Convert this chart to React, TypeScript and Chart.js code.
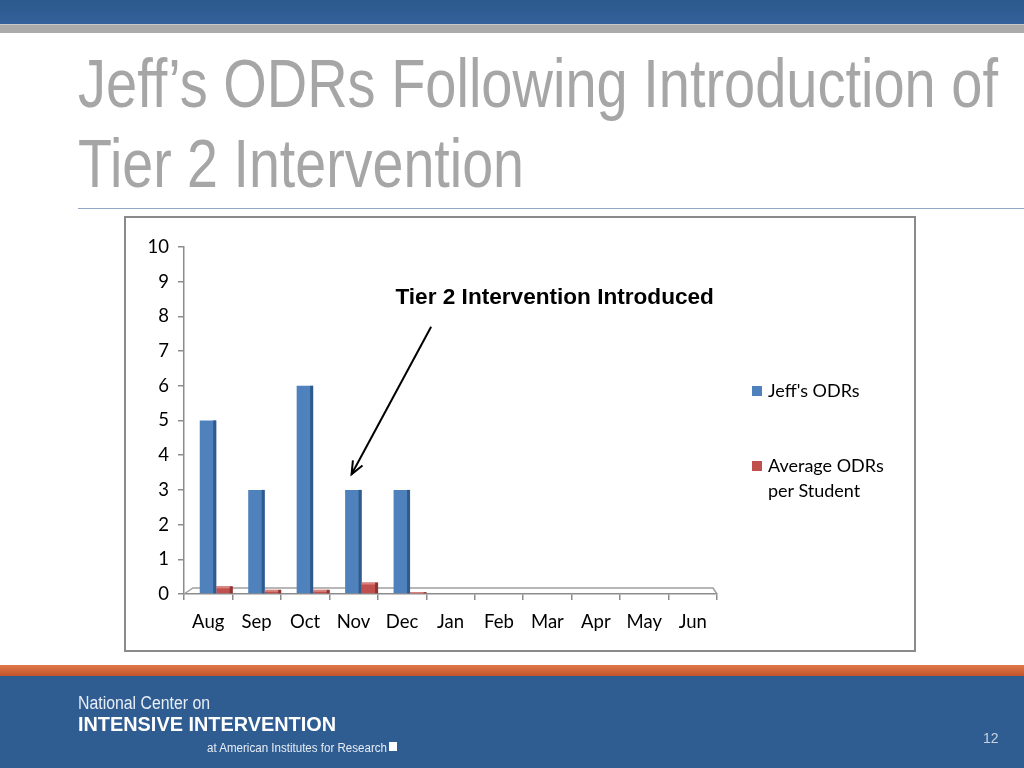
import React, { useEffect, useRef } from "react";
import { Chart, registerables } from "chart.js";

Chart.register(...registerables);

const months = ["Aug", "Sep", "Oct", "Nov", "Dec", "Jan", "Feb", "Mar", "Apr", "May", "Jun"];
const jeffODRs = [5, 3, 6, 3, 3, null, null, null, null, null, null];
const avgODRs = [0.22, 0.12, 0.12, 0.33, 0.05, null, null, null, null, null, null];
const yTicks = [0, 1, 2, 3, 4, 5, 6, 7, 8, 9, 10];
const seriesNames = ["Jeff's ODRs", "Average ODRs per Student"];
const annotationText = "Tier 2 Intervention Introduced";

const BLUE = "#4f81bd";
const BLUE_DARK = "#2f5a8c";
const RED = "#c0504d";
const RED_DARK = "#8e3431";
const RED_LIGHT = "#d9837f";
const AXIS = "#8c8c8c";
const FONT = "Lato, 'Open Sans', sans-serif";
const DEPTH_SHIFT = 8;

const deco = {
  id: "deco",
  beforeDatasetsDraw(chart: any) {
    const { ctx, chartArea } = chart;
    const { left, right, bottom } = chartArea;
    ctx.save();
    ctx.strokeStyle = "#a0a0a0";
    ctx.lineWidth = 1.5;
    ctx.beginPath();
    ctx.moveTo(left, bottom);
    ctx.lineTo(left + 9, bottom - 6);
    ctx.lineTo(right - 4, bottom - 6);
    ctx.lineTo(right, bottom);
    ctx.stroke();
    ctx.restore();
    ctx.save();
    ctx.translate(DEPTH_SHIFT, 0);
  },
  afterDatasetsDraw(chart: any) {
    const { ctx } = chart;
    chart.data.datasets.forEach((ds: any, i: number) => {
      const meta = chart.getDatasetMeta(i);
      meta.data.forEach((bar: any, j: number) => {
        if (ds.data[j] == null) return;
        const w = bar.width;
        const l = bar.x - w / 2;
        const r = bar.x + w / 2;
        const top = bar.y;
        const base = bar.base;
        if (i === 0) {
          ctx.fillStyle = BLUE_DARK;
          ctx.fillRect(r - 3, top, 3, base - top);
        } else {
          ctx.fillStyle = RED_DARK;
          ctx.fillRect(r - 3, top, 3, base - top);
          ctx.fillStyle = RED_LIGHT;
          ctx.fillRect(l, top, w - 3, Math.min(2, base - top));
        }
      });
    });
    ctx.restore();
  },
  afterDraw(chart: any) {
    const { ctx, scales } = chart;
    const x = scales.x;
    const y = scales.y;
    ctx.save();
    ctx.fillStyle = "#000";
    ctx.font = "bold 22.6px 'Liberation Sans', Arial, sans-serif";
    ctx.textAlign = "center";
    ctx.textBaseline = "middle";
    ctx.fillText(annotationText, x.getPixelForValue(7.15), y.getPixelForValue(8.55));
    const x1 = x.getPixelForValue(4.6);
    const y1 = y.getPixelForValue(7.7);
    const x2 = x.getPixelForValue(3) - 2;
    const y2 = y.getPixelForValue(3.45);
    ctx.strokeStyle = "#000";
    ctx.lineWidth = 2;
    ctx.beginPath();
    ctx.moveTo(x1, y1);
    ctx.lineTo(x2, y2);
    ctx.stroke();
    const ang = Math.atan2(y2 - y1, x2 - x1);
    const hl = 14;
    ctx.beginPath();
    ctx.moveTo(x2 - hl * Math.cos(ang - 0.4), y2 - hl * Math.sin(ang - 0.4));
    ctx.lineTo(x2, y2);
    ctx.lineTo(x2 - hl * Math.cos(ang + 0.4), y2 - hl * Math.sin(ang + 0.4));
    ctx.stroke();
    ctx.restore();
  },
};

function ChartBox() {
  const ref = useRef<HTMLCanvasElement | null>(null);
  useEffect(() => {
    if (!ref.current) return;
    const chart = new Chart(ref.current, {
      type: "bar",
      data: {
        labels: months,
        datasets: [
          { label: seriesNames[0], data: jeffODRs, backgroundColor: BLUE },
          { label: seriesNames[1], data: avgODRs, backgroundColor: RED },
        ],
      },
      options: {
        animation: false,
        responsive: false,
        maintainAspectRatio: false,
        layout: { padding: { left: 18, top: 29, right: 195, bottom: 6 } },
        datasets: { bar: { categoryPercentage: 0.68, barPercentage: 1 } },
        plugins: { legend: { display: false }, tooltip: { enabled: false } },
        scales: {
          x: {
            afterFit: (s: any) => { s.height = 48; },
            grid: { drawOnChartArea: false, drawTicks: true, tickLength: 6, color: AXIS, lineWidth: 1.5, offset: true },
            border: { color: AXIS, width: 1.5 },
            ticks: { color: "#000", font: { family: FONT, size: 18.5 }, padding: 11, maxRotation: 0 },
          },
          y: {
            min: 0,
            max: 10,
            afterFit: (s: any) => { s.width = 40; },
            afterBuildTicks: (s: any) => { s.ticks = yTicks.map((v) => ({ value: v })); },
            grid: { drawOnChartArea: false, drawTicks: true, tickLength: 6, color: AXIS, lineWidth: 1.5 },
            border: { color: AXIS, width: 1.5 },
            ticks: { color: "#000", font: { family: FONT, size: 18.5 }, padding: 9, stepSize: 1 },
          },
        },
      },
      plugins: [deco],
    });
    return () => chart.destroy();
  }, []);
  return <canvas ref={ref} width={786} height={430} style={{ position: "absolute", left: 0, top: 0, width: 786, height: 430 }} />;
}

export default function App() {
  const narrow = "'Liberation Sans Narrow', 'Arial Narrow', 'Liberation Sans', sans-serif";
  return (
    <div style={{ position: "absolute", left: 0, top: 0, width: 1024, height: 768, background: "#fff", overflow: "hidden" }}>
      <div style={{ position: "absolute", left: 0, top: 0, width: 1024, height: 24, background: "linear-gradient(#2c5a8d, #33609a)" }} />
      <div style={{ position: "absolute", left: 0, top: 24, width: 1024, height: 9, background: "#aaaaaa", borderTop: "1px solid #c8c8c8", boxSizing: "border-box" }} />
      <svg width={1024} height={768} style={{ position: "absolute", left: 0, top: 0 }}>
        <text x={78} y={107} fontFamily={narrow} fontSize={68} fill="#a6a6a6" textLength={920} lengthAdjust="spacingAndGlyphs">Jeff’s ODRs Following Introduction of</text>
        <text x={78} y={187} fontFamily={narrow} fontSize={68} fill="#a6a6a6" textLength={446} lengthAdjust="spacingAndGlyphs">Tier 2 Intervention</text>
        <line x1={78} y1={208.5} x2={1024} y2={208.5} stroke="#8fa9c7" strokeWidth={1} />
      </svg>
      <div style={{ position: "absolute", left: 124, top: 216, width: 792, height: 436, border: "2px solid #8a8a8a", boxSizing: "border-box", background: "#fff" }}>
        <ChartBox />
        <div style={{ position: "absolute", left: 626, top: 160, fontFamily: FONT, fontSize: 18, color: "#000", lineHeight: "25px" }}>
          <div style={{ display: "flex", alignItems: "center" }}>
            <span style={{ display: "inline-block", width: 10, height: 10, background: BLUE, marginRight: 6 }} />
            {seriesNames[0]}
          </div>
          <div style={{ display: "flex", alignItems: "flex-start", marginTop: 50 }}>
            <span style={{ display: "inline-block", width: 10, height: 10, background: RED, marginRight: 6, marginTop: 8 }} />
            <span>Average ODRs<br />per Student</span>
          </div>
        </div>
      </div>
      <div style={{ position: "absolute", left: 0, top: 665, width: 1024, height: 11, background: "linear-gradient(#e07a4a, #c4532a)" }} />
      <div style={{ position: "absolute", left: 0, top: 676, width: 1024, height: 92, background: "#2f5d91" }} />
      <svg width={1024} height={768} style={{ position: "absolute", left: 0, top: 0 }}>
        <text x={78} y={709} fontFamily={narrow} fontSize={18} fill="#e8eef6" textLength={132} lengthAdjust="spacingAndGlyphs">National Center on</text>
        <text x={78} y={731} fontFamily={narrow} fontSize={21} fontWeight="bold" fill="#ffffff" textLength={258} lengthAdjust="spacingAndGlyphs">INTENSIVE INTERVENTION</text>
        <text x={207} y={752} fontFamily={narrow} fontSize={12} fill="#e8eef6" textLength={180} lengthAdjust="spacingAndGlyphs">at American Institutes for Research</text>
        <rect x={389} y={742} width={8} height={9} fill="#ffffff" />
        <text x={983} y={743} fontFamily={narrow} fontSize={14} fill="#c9d3e0">12</text>
      </svg>
    </div>
  );
}
